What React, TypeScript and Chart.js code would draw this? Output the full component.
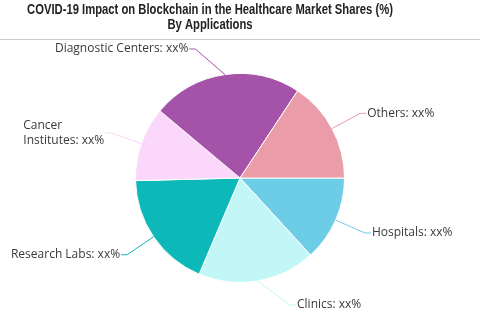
import React, { useEffect, useRef } from "react";
import { Chart, registerables } from "chart.js";

Chart.register(...registerables);

const titleLines = [
  "COVID-19 Impact on Blockchain in the Healthcare Market Shares (%)",
  "By Applications",
];
const categories = [
  "Hospitals",
  "Clinics",
  "Research Labs",
  "Cancer Institutes",
  "Diagnostic Centers",
  "Others",
];
const shares = [13.2, 18.2, 18.2, 11.5, 23.2, 15.7];
const valueLabels = ["xx%", "xx%", "xx%", "xx%", "xx%", "xx%"];
const colors = ["#6ECDE6", "#C3F7F7", "#0DB8B9", "#FBD7FB", "#A453A8", "#EA9DA8"];

const LABEL_FONT = '12px "Open Sans", "Noto Sans", sans-serif';
const TITLE_FONT = 'bold 14px "Liberation Sans", Arial, sans-serif';
const TITLE_WIDTH = 366;

function wrapText(ctx: CanvasRenderingContext2D, text: string, maxW: number): string[] {
  if (ctx.measureText(text).width <= maxW) return [text];
  const words = text.split(" ");
  const lines: string[] = [];
  let cur = "";
  for (const w of words) {
    const test = cur ? cur + " " + w : w;
    if (cur && ctx.measureText(test).width > maxW) {
      lines.push(cur);
      cur = w;
    } else {
      cur = test;
    }
  }
  if (cur) lines.push(cur);
  return lines;
}

const headerPlugin = {
  id: "header",
  beforeDraw(chart: any) {
    const ctx: CanvasRenderingContext2D = chart.ctx;
    ctx.save();
    ctx.fillStyle = "#ffffff";
    ctx.fillRect(0, 0, chart.width, chart.height);
    ctx.font = TITLE_FONT;
    ctx.fillStyle = "#222222";
    ctx.textAlign = "center";
    ctx.textBaseline = "middle";
    const sx = TITLE_WIDTH / ctx.measureText(titleLines[0]).width;
    ctx.save();
    ctx.translate(210, 0);
    ctx.scale(sx, 1);
    ctx.fillText(titleLines[0], 0, 10);
    ctx.fillText(titleLines[1], 0, 25);
    ctx.restore();
    ctx.strokeStyle = "#cccccc";
    ctx.lineWidth = 1;
    ctx.beginPath();
    ctx.moveTo(0, 39.5);
    ctx.lineTo(chart.width, 39.5);
    ctx.stroke();
    ctx.restore();
  },
};

const labelPlugin = {
  id: "pieLabels",
  afterDatasetsDraw(chart: any) {
    const ctx: CanvasRenderingContext2D = chart.ctx;
    const meta = chart.getDatasetMeta(0);
    ctx.save();
    meta.data.forEach((arc: any, i: number) => {
      const { x, y, startAngle, endAngle, outerRadius } = arc.getProps(
        ["x", "y", "startAngle", "endAngle", "outerRadius"],
        true
      );
      const mid = (startAngle + endAngle) / 2;
      const ex = x + Math.cos(mid) * outerRadius;
      const ey = y + Math.sin(mid) * outerRadius;
      const R = outerRadius + 32;
      let ly = y + Math.sin(mid) * R;
      ly = Math.min(Math.max(ly, 49), chart.height - 15);
      const right = Math.cos(mid) >= 0;
      const dx = Math.sqrt(Math.max(R * R - (ly - y) * (ly - y), 0));
      const lx = x + (right ? dx : -dx);
      const tx = lx + (right ? 6 : -6);
      ctx.strokeStyle = colors[i];
      ctx.lineWidth = 1;
      ctx.beginPath();
      ctx.moveTo(ex, ey);
      ctx.lineTo(lx, ly);
      ctx.lineTo(tx, ly);
      ctx.stroke();

      ctx.font = LABEL_FONT;
      ctx.fillStyle = "#3a3a3a";
      ctx.textBaseline = "middle";
      ctx.textAlign = "left";
      const textX = tx + (right ? 1 : -1);
      const maxW = right ? chart.width - 8 - textX : textX - 8;
      const lines = wrapText(ctx, `${categories[i]}: ${valueLabels[i]}`, maxW);
      const blockW = Math.max(...lines.map((l) => ctx.measureText(l).width));
      const startX = right ? textX : textX - blockW;
      const lh = 15;
      lines.forEach((ln, k) => {
        ctx.fillText(ln, startX, ly + (k - (lines.length - 1) / 2) * lh);
      });
    });
    ctx.restore();
  },
};

export default function App() {
  const canvasRef = useRef<HTMLCanvasElement | null>(null);

  useEffect(() => {
    document.body.style.margin = "0";
    const canvas = canvasRef.current;
    if (!canvas) return;
    const chart = new Chart(canvas, {
      type: "pie",
      data: {
        labels: categories,
        datasets: [
          {
            data: shares,
            backgroundColor: colors,
            borderColor: "#ffffff",
            borderWidth: 1,
          },
        ],
      },
      options: {
        responsive: false,
        animation: false,
        events: [],
        rotation: 90,
        layout: { padding: { top: 73, bottom: 37, left: 0, right: 0 } },
        plugins: {
          legend: { display: false },
          tooltip: { enabled: false },
          title: { display: false },
        },
      },
      plugins: [headerPlugin, labelPlugin],
    });
    return () => chart.destroy();
  }, []);

  return (
    <div style={{ width: 480, height: 320 }}>
      <canvas ref={canvasRef} width={480} height={320} style={{ display: "block" }} />
    </div>
  );
}
